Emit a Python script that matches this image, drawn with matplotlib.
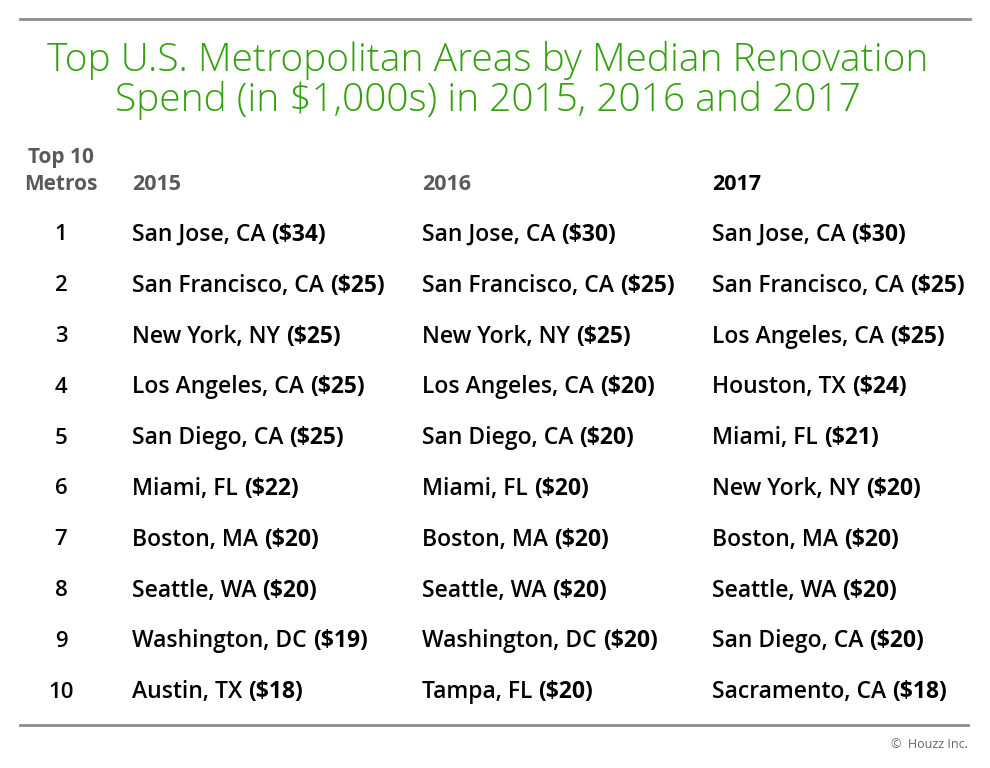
import matplotlib
matplotlib.use("Agg")
import matplotlib.pyplot as plt

title_lines = ["Top U.S. Metropolitan Areas by Median Renovation",
               "Spend (in $1,000s) in 2015, 2016 and 2017"]
rank_header = ["Top 10", "Metros"]
years = ["2015", "2016", "2017"]
ranks = [1, 2, 3, 4, 5, 6, 7, 8, 9, 10]
metros_2015 = ["San Jose, CA", "San Francisco, CA", "New York, NY", "Los Angeles, CA",
               "San Diego, CA", "Miami, FL", "Boston, MA", "Seattle, WA",
               "Washington, DC", "Austin, TX"]
spend_2015 = [34, 25, 25, 25, 25, 22, 20, 20, 19, 18]
metros_2016 = ["San Jose, CA", "San Francisco, CA", "New York, NY", "Los Angeles, CA",
               "San Diego, CA", "Miami, FL", "Boston, MA", "Seattle, WA",
               "Washington, DC", "Tampa, FL"]
spend_2016 = [30, 25, 25, 20, 20, 20, 20, 20, 20, 20]
metros_2017 = ["San Jose, CA", "San Francisco, CA", "Los Angeles, CA", "Houston, TX",
               "Miami, FL", "New York, NY", "Boston, MA", "Seattle, WA",
               "San Diego, CA", "Sacramento, CA"]
spend_2017 = [30, 25, 25, 24, 21, 20, 20, 20, 20, 18]
footer = "©  Houzz Inc."

FONT = ["Open Sans", "DejaVu Sans"]
GREEN = "#34a00f"
GREY = "#5a5a5a"

fig = plt.figure(figsize=(9.9, 7.68), dpi=100)
ax = fig.add_axes([0, 0, 1, 1])
ax.set_xlim(0, 990)
ax.set_ylim(768, 0)
ax.axis("off")

# rules
ax.plot([20, 970], [19, 19], color="#8c8c8c", lw=2)
ax.plot([20, 968], [725, 725], color="#8c8c8c", lw=2)

# title
for i, line in enumerate(title_lines):
    ax.text(488, 60 + 40 * i, line, ha="center", va="center", color=GREEN,
            fontsize=28, family=FONT, fontweight="light")

# headers
ax.text(61, 157, rank_header[0], ha="center", va="center", color=GREY,
        fontsize=15, family=FONT, fontweight="bold")
ax.text(61, 184, rank_header[1], ha="center", va="center", color=GREY,
        fontsize=15, family=FONT, fontweight="bold")
col_x = [132, 422, 712]
year_colors = [GREY, GREY, "black"]
for x, y, c in zip(col_x, years, year_colors):
    ax.text(x, 184, y, ha="left", va="center", color=c, fontsize=15.5,
            family=FONT, fontweight="bold")

row_y0 = 235
row_dy = 50.8
cols = [(metros_2015, spend_2015), (metros_2016, spend_2016), (metros_2017, spend_2017)]
for i, r in enumerate(ranks):
    y = row_y0 + row_dy * i
    ax.text(61, y, str(r), ha="center", va="center", color="black",
            fontsize=16, family=FONT, fontweight="semibold")
    for x, (names, vals) in zip(col_x, cols):
        t = ax.text(x, y, names[i] + " ", ha="left", va="center", color="black",
                    fontsize=16.5, family=FONT, fontweight="semibold")
        ax.annotate(f"(${vals[i]})", xy=(1, 0.5), xycoords=t, ha="left",
                    va="center", color="black", fontsize=16.5, family=FONT,
                    fontweight="bold")

ax.text(968, 745, footer, ha="right", va="center", color="#666666",
        fontsize=9, family=FONT)

fig.savefig("out.png", dpi=100)
